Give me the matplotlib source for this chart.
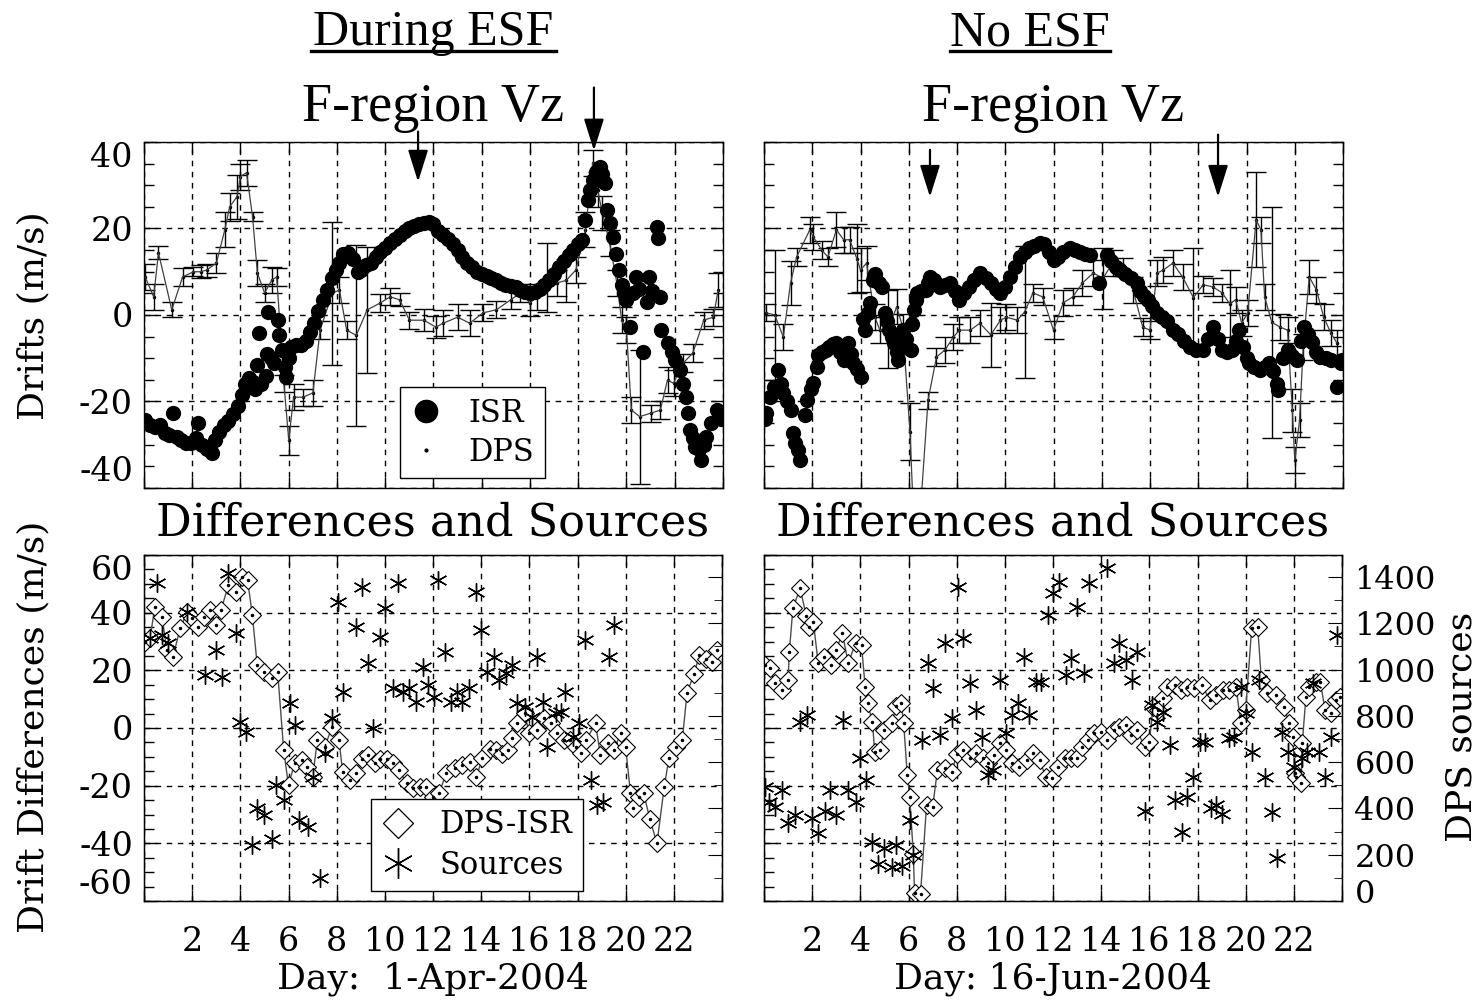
import matplotlib
matplotlib.use("Agg")
import matplotlib.pyplot as plt
import numpy as np
from matplotlib.lines import Line2D
from matplotlib.ticker import MultipleLocator

W, H = 1483, 1001
plt.rcParams['font.family'] = ['DejaVu Serif']

# ---------------- data: 1-Apr-2004 (during ESF) ----------------
# ISR vertical drift (hour, m/s)
isr_apr = np.array([
    [0.05, -24.3], [0.25, -25.5], [0.45, -26], [0.65, -25.5], [0.85, -27.3], [1.05, -27.8],
    [1.2, -22.7], [1.35, -28.3], [1.55, -29], [1.75, -29.5], [1.95, -29.5], [2.15, -28.5],
    [2.25, -25], [2.4, -30], [2.6, -31], [2.8, -32], [2.95, -29], [3.1, -27], [3.3, -25.5],
    [3.5, -24.5], [3.7, -23], [3.9, -21], [4.05, -18.5], [4.2, -16], [4.35, -14.5], [4.5, -15.5],
    [4.6, -17], [4.7, -11.6], [4.75, -4.2], [4.85, -16], [5.05, -14], [5.1, -9], [5.15, 0.7],
    [5.25, -10], [5.4, -11], [5.55, -1.2], [5.6, -4.6], [5.7, -8], [5.85, -12], [5.9, -14.4],
    [6.0, -10], [6.1, -7.5], [6.3, -7], [6.5, -7], [6.7, -6], [6.9, -4], [7.05, -1.9], [7.2, 1],
    [7.4, 3.5], [7.6, 5.8], [7.8, 8.5], [7.95, 10.5], [8.1, 12], [8.25, 14], [8.45, 14.4],
    [8.65, 13], [8.85, 10], [9.0, 10.5], [9.2, 11.5], [9.4, 12], [9.6, 13.5], [9.8, 14.5],
    [10.0, 15.5], [10.2, 16.7], [10.4, 17.5], [10.6, 18.5], [10.8, 19.5], [11.0, 20], [11.2, 20.5],
    [11.4, 21], [11.6, 21.2], [11.8, 21.5], [12.0, 21], [12.2, 19.5], [12.4, 18.5], [12.6, 17.5],
    [12.8, 16.5], [13.0, 15], [13.2, 13.4], [13.4, 12], [13.6, 11], [13.8, 10], [14.0, 9.5],
    [14.2, 9], [14.4, 8.5], [14.6, 8.1], [14.8, 7.5], [15.0, 7], [15.2, 6.8], [15.4, 6.5],
    [15.6, 5.8], [15.8, 5.3], [16.0, 5.1], [16.2, 5.3], [16.4, 6], [16.6, 7], [16.8, 8], [17.0, 9.5],
    [17.2, 11], [17.4, 12.5], [17.6, 13.8], [17.8, 15], [18.0, 16.5], [18.15, 17.4], [18.3, 22],
    [18.4, 26.7], [18.5, 29], [18.6, 31.3], [18.75, 33], [18.9, 34.3], [19.0, 32.5], [19.1, 30.6],
    [19.2, 24.3], [19.3, 21.3], [19.45, 18], [19.55, 14], [19.7, 10.4], [19.8, 7], [19.9, 5.1],
    [20.0, 3.5], [20.15, -2.8], [20.25, 5], [20.4, 8.8], [20.5, 6], [20.7, -8.6], [20.85, 3],
    [20.95, 8.8], [21.05, 5.5], [21.25, 20.4], [21.3, 17.8], [21.4, 4.2], [21.45, -3.5],
    [21.7, -6.5], [21.9, -8.5], [22.0, -10.4], [22.2, -12.7], [22.35, -16], [22.45, -19],
    [22.55, -22.7], [22.65, -26.6], [22.75, -28.5], [22.85, -30.6], [23.0, -31], [23.1, -33.6],
    [23.2, -30], [23.3, -28.3], [23.5, -25], [23.75, -22], [23.9, -24]])

# DPS drift (hour, m/s, error)
dps_apr = np.array([
    [0.05, 8.8, 3], [0.4, 4.2, 3], [0.6, 14.4, 1.5], [1.15, 1.2, 1.7], [1.6, 8.8, 2], [2.05, 10, 1],
    [2.35, 10, 1.5], [2.6, 10.4, 1.5], [3.0, 12, 2.3], [3.35, 19.7, 4], [3.55, 25, 3.3],
    [3.85, 27.3, 5], [4.0, 32, 3], [4.25, 32.9, 3], [4.5, 22.7, 1], [4.7, 9.7, 3], [5.0, 5.1, 2],
    [5.3, 8.1, 3], [5.5, 8.8, 2], [5.8, -15.8, 2], [6.0, -29, 3.3], [6.2, -19, 3], [6.6, -19, 2],
    [7.0, -18, 3], [7.3, -3.5, 2], [7.8, 5, 16.5], [8.1, 5.8, 3], [8.4, -3.5, 2], [8.8, -4.7, 21],
    [9.25, 1.2, 14.6], [9.8, 2.8, 2], [10.2, 4.2, 2], [10.6, 3.5, 1.5], [11.0, -1.2, 2],
    [11.6, -1.2, 2.5], [12.1, -2.8, 2.5], [12.4, -1.9, 3], [13.0, -0.5, 3], [13.5, -1.9, 3],
    [14.05, 0.5, 2], [14.6, 1.2, 2], [15.2, 3.5, 2], [15.6, 5.1, 2], [16.0, 2.8, 3], [16.3, 4.2, 3],
    [16.7, 8.6, 8], [17.1, 7.4, 3], [17.5, 8, 5], [17.9, 10.4, 3], [18.3, 19.7, 4], [18.6, 35.2, 3],
    [18.8, 29, 4], [19.0, 23.6, 4], [19.3, 16.7, 3], [19.6, 7.4, 3], [19.8, -1.2, 3], [20.0, -3.5, 3],
    [20.2, -22, 3], [20.55, -23.5, 15.5], [21.0, -22.7, 2], [21.4, -22, 2], [21.7, -15, 3],
    [21.95, -15.8, 3], [22.35, -11.1, 2], [22.75, -8.8, 2], [23.2, -1.2, 2], [23.6, -0.5, 2],
    [23.8, 5.8, 4]])

# DPS-ISR difference (hour, m/s)
diff_apr = np.array([
    [0.05, 29.8], [0.25, 31.1], [0.45, 42], [0.75, 38.4], [0.95, 27], [1.2, 24.5], [1.5, 34.6],
    [1.8, 40.2], [2.0, 38], [2.25, 35], [2.5, 38.4], [2.75, 40.9], [3.0, 35.7], [3.2, 40.9],
    [3.5, 49.5], [3.8, 47], [4.05, 52.3], [4.3, 51.3], [4.5, 39.1], [4.7, 21.8], [5.0, 19.4],
    [5.3, 17.2], [5.55, 19.4], [5.8, -7.7], [6.0, -19.9], [6.25, -12.3], [6.55, -11.2],
    [6.75, -13.6], [7.0, -17.1], [7.2, -4.3], [7.5, -6.7], [7.8, 0.2], [8.1, -4.3], [8.25, -15.4],
    [8.55, -18.2], [8.8, -15.7], [9.05, -10.6], [9.3, -9.5], [9.6, -12.3], [9.8, -10.6],
    [10.1, -10.6], [10.35, -12.3], [10.6, -14.7], [10.9, -19.2], [11.15, -20.9], [11.45, -20.5],
    [11.7, -20.5], [12.0, -24], [12.25, -22.7], [12.55, -15.7], [12.9, -14], [13.2, -12.9],
    [13.55, -11.8], [13.8, -17.1], [14.05, -10.3], [14.35, -7.2], [14.6, -7.7], [14.85, -8.9],
    [15.1, -7.7], [15.3, -3.6], [15.5, 1.6], [15.8, 5.1], [16.0, -1.9], [16.3, -0.8], [16.6, 3.3],
    [16.9, 1.6], [17.15, -1.9], [17.45, -4.3], [17.7, -4.3], [17.95, -6.7], [18.15, -8.5],
    [18.35, -4.3], [18.75, 1.6], [18.95, -9.5], [19.25, -5.3], [19.5, -7.7], [19.8, -1.9],
    [20.0, -6.7], [20.2, -22.7], [20.3, -27.8], [20.55, -24.1], [20.75, -22.7], [21.0, -31.4],
    [21.3, -40], [21.6, -20.5], [21.8, -10.3], [22.1, -6.7], [22.35, -4.3], [22.55, 12.3],
    [22.85, 18.9], [23.05, 25.2], [23.35, 24.1], [23.6, 22.8], [23.8, 27]])

# DPS sources (hour, count)
src_apr = np.array([
    [0.25, 1136], [0.55, 1374], [0.75, 1149], [1.0, 1114], [1.8, 1248], [2.55, 976], [3.0, 1084],
    [3.25, 967], [3.5, 1417], [3.8, 1157], [3.97, 773], [4.25, 729], [4.5, 240], [4.7, 400],
    [5.0, 370], [5.3, 270], [5.5, 500], [5.8, 435], [6.05, 855], [6.25, 760], [6.45, 348],
    [6.8, 318], [7.0, 535], [7.3, 101], [7.5, 639], [7.8, 790], [8.05, 1292], [8.25, 902],
    [8.8, 1184], [9.05, 1357], [9.3, 1028], [9.5, 746], [9.8, 1141], [10.0, 1266], [10.35, 919],
    [10.55, 1374], [10.75, 902], [11.0, 919], [11.3, 859], [11.6, 1011], [11.8, 933], [12.05, 881],
    [12.2, 1387], [12.5, 1076], [12.75, 859], [13.0, 902], [13.2, 859], [13.5, 919], [13.8, 1335],
    [14.0, 1171], [14.25, 989], [14.55, 1054], [14.75, 954], [15.05, 984], [15.3, 1019],
    [15.5, 855], [15.8, 838], [16.1, 794], [16.3, 1054], [16.55, 859], [16.75, 664], [17.1, 811],
    [17.3, 816], [17.5, 902], [17.8, 707], [18.05, 768], [18.3, 1127], [18.55, 521], [18.8, 413],
    [19.05, 426], [19.3, 1054], [19.5, 1192]])

# ---------------- data: 16-Jun-2004 (no ESF) ----------------
isr_jun = np.array([
    [0.05, -24], [0.1, -22.7], [0.25, -19], [0.4, -16.7], [0.6, -12.7], [0.7, -16], [0.8, -18],
    [0.95, -20], [1.1, -22], [1.2, -27.3], [1.3, -29.5], [1.4, -31.3], [1.5, -33.6], [1.7, -23.2],
    [1.8, -19.7], [1.95, -17], [2.05, -15.8], [2.2, -12], [2.25, -9.3], [2.4, -8.5], [2.55, -8],
    [2.7, -7.4], [2.85, -6.8], [3.0, -6.5], [3.15, -8.5], [3.3, -10.4], [3.5, -6.5], [3.6, -9],
    [3.7, -11.1], [3.85, -12.5], [4.0, -14.4], [4.1, -1], [4.2, -3.5], [4.3, 0.5], [4.4, 2.8],
    [4.5, 8.1], [4.6, 9.5], [4.75, 7.5], [4.9, 6.5], [5.0, 0.5], [5.1, -1.5], [5.2, -3.5],
    [5.3, -5], [5.4, -6.5], [5.5, -8.5], [5.55, -10.4], [5.7, -6], [5.75, -3.5], [5.9, -5.5],
    [6.1, -8.1], [6.15, -2], [6.2, 1.2], [6.3, 3.5], [6.35, 5.1], [6.5, 5.5], [6.7, 5.8],
    [6.8, 7.5], [6.9, 8.8], [7.05, 8], [7.2, 7], [7.3, 6.5], [7.5, 7], [7.7, 7.4], [7.9, 5.5],
    [8.1, 3.5], [8.3, 5], [8.5, 6.5], [8.7, 8], [8.95, 9.7], [9.2, 8.5], [9.4, 7.4], [9.6, 6],
    [9.8, 5.1], [10.0, 6.5], [10.2, 8.8], [10.4, 11], [10.6, 13.4], [10.8, 14.5], [11.0, 15.5],
    [11.2, 16], [11.45, 16.7], [11.6, 16.5], [11.8, 14.5], [12.0, 12.7], [12.2, 13.5], [12.4, 14.5],
    [12.7, 15.5], [12.9, 15], [13.1, 14.5], [13.3, 14], [13.5, 13.9], [13.9, 7.4], [14.2, 13.9],
    [14.4, 12.5], [14.6, 11.2], [14.75, 10.4], [14.95, 9.5], [15.2, 8.5], [15.45, 7.4], [15.6, 5.5],
    [15.75, 4.5], [15.9, 3.5], [16.1, 2], [16.3, 0.5], [16.5, -0.5], [16.7, -1.5], [16.95, -3.5],
    [17.15, -4.5], [17.4, -6], [17.65, -7.4], [17.9, -8], [18.2, -8.1], [18.4, -5.5], [18.6, -2.8],
    [18.8, -5.5], [19.0, -8.1], [19.2, -8.5], [19.4, -8.1], [19.55, -6], [19.7, -3.5], [19.85, -7.5],
    [20.0, -10], [20.1, -11.1], [20.3, -12], [20.55, -12.7], [20.75, -12], [20.95, -11.1],
    [21.1, -13], [21.25, -16], [21.3, -17.4], [21.5, -10], [21.7, -8.1], [21.9, -9.5], [22.1, -10.4],
    [22.25, -6], [22.4, -2.8], [22.55, -4.5], [22.7, -6.3], [22.9, -8.5], [23.05, -9.7], [23.3, -10],
    [23.5, -10.4], [23.75, -16.7], [23.9, -11], [23.95, -10.4]])

dps_jun = np.array([
    [0.1, 0.5, 2], [0.45, 0, 15], [0.8, -5.1, 3], [1.1, 7.4, 5], [1.35, 13.4, 2], [1.9, 19.7, 3],
    [2.05, 18, 3], [2.4, 15, 2], [2.65, 13.4, 2], [3.0, 19.7, 4], [3.3, 17.4, 3], [3.55, 17.4, 3],
    [3.85, 13, 8], [4.0, 10.4, 5], [4.25, 12, 4], [4.6, -0.5, 3], [4.8, -3.5, 3], [5.15, -3.3, 9],
    [5.5, 1.9, 4], [5.75, -2.8, 3], [6.05, -27, 6.6], [6.3, -60, 5], [6.8, -19.7, 2],
    [7.15, -9.7, 2], [7.5, -8.1, 3], [7.85, -5.1, 3], [8.1, -3.5, 3], [8.55, -3.5, 3],
    [8.95, -1.9, 3], [9.4, -4.6, 7.4], [9.8, -1.2, 3], [10.05, -0.5, 3], [10.5, -1.2, 3],
    [10.8, 0.7, 15.3], [11.15, 5.1, 2], [11.55, 4.2, 2], [12.0, -3.5, 2], [12.4, 2.8, 3],
    [12.8, 4.2, 2], [13.2, 7.4, 3], [13.65, 9.7, 3], [14.05, 8.5, 7], [14.45, 12, 3], [14.9, 11.1, 2],
    [15.3, 5.8, 3], [15.7, -2.8, 2], [16.0, -3.5, 2], [16.3, 9.7, 3], [16.55, 10.4, 3], [16.95, 12, 3],
    [17.35, 8.8, 3], [17.8, 4, 11.5], [18.2, 7, 2], [18.6, 6.5, 2], [19.0, 5.1, 2], [19.3, 2.6, 7.7],
    [19.55, 3.5, 3], [19.8, -1.9, 3], [20.05, 0.5, 3], [20.4, 22, 11], [20.6, 19.7, 3],
    [20.75, 4.2, 3], [21.05, -1.7, 26.7], [21.4, -2.8, 3], [21.7, -3.5, 3], [21.9, -22, 5],
    [22.0, -33.6, 3], [22.2, -24.3, 4], [22.35, -7.4, 3], [22.6, 8.8, 4], [22.9, 5.8, 3],
    [23.2, -0.5, 3], [23.5, -4.2, 3], [23.75, -6.5, 3]])

diff_jun = np.array([
    [0.05, 21.8], [0.25, 20.7], [0.45, 15.5], [0.75, 13.1], [1.0, 16.6], [1.05, 26.3], [1.2, 41.5],
    [1.5, 48.5], [1.75, 39], [1.85, 35], [2.05, 36.7], [2.25, 22.5], [2.5, 24.6], [2.8, 21.8],
    [3.0, 27], [3.25, 32.9], [3.5, 22.5], [3.8, 29.4], [4.05, 28.7], [4.2, 14.2], [4.3, 8.6],
    [4.5, 2.0], [4.6, -8.3], [4.8, -7.7], [5.0, -0.8], [5.3, 1.6], [5.5, 7.8], [5.7, 8.6],
    [5.8, 1.6], [5.95, -16.4], [6.05, -24], [6.2, -43.6], [6.25, -57.1], [6.5, -57.4], [6.75, -26.8],
    [7.0, -27.5], [7.2, -14.7], [7.5, -14], [7.8, -15.4], [8.0, -8.9], [8.25, -7.7], [8.55, -10.3],
    [8.8, -8.5], [9.1, -10.3], [9.3, -12.3], [9.55, -9.5], [9.8, -5.3], [10.05, -7.7], [10.3, -12.3],
    [10.6, -13.6], [10.9, -11.2], [11.15, -8.5], [11.45, -11.2], [11.7, -17.1], [11.95, -17.4],
    [12.2, -13.6], [12.5, -10.3], [12.75, -10.3], [13.0, -10.3], [13.2, -6.7], [13.45, -4.3],
    [13.7, -1.9], [14.0, -1.5], [14.25, -4.3], [14.55, -0.8], [14.75, 0.2], [15.05, 0.9],
    [15.25, -2.5], [15.5, -0.8], [15.8, -6.7], [16.0, -5], [16.15, 7.2], [16.35, 6.1], [16.55, 10.3],
    [16.75, 14.2], [17.05, 14.9], [17.3, 13.1], [17.55, 14.2], [17.85, 13.8], [18.2, 14.9],
    [18.5, 9.6], [18.75, 11.4], [19.05, 13.1], [19.3, 13.1], [19.6, 14.2], [19.8, 1.6], [20.0, 6.1],
    [20.25, 34.6], [20.5, 35], [20.65, 16.6], [20.9, 12.3], [21.25, 11.4], [21.6, 7.2], [21.8, 1.6],
    [21.95, -3.2], [22.05, -15.7], [22.1, -17.1], [22.3, -19.2], [22.35, -5.3], [22.5, 10.6],
    [22.65, 14.2], [22.9, 16.0], [23.1, 16.0], [23.3, 6.1], [23.55, 5.1], [23.75, 9.6], [23.9, 10.6]])

src_jun = np.array([
    [0.05, 491], [0.2, 426], [0.45, 404], [0.75, 478], [1.0, 339], [1.3, 370], [1.5, 773],
    [1.8, 803], [2.0, 357], [2.25, 292], [2.55, 391], [2.75, 478], [3.0, 370], [3.3, 781],
    [3.5, 478], [3.8, 426], [4.0, 616], [4.25, 521], [4.5, 253], [4.75, 162], [5.0, 227],
    [5.3, 145], [5.5, 240], [5.75, 153], [6.05, 348], [6.2, 197], [6.55, 694], [6.8, 1028],
    [7.0, 919], [7.3, 716], [7.5, 1114], [7.8, 790], [8.05, 1357], [8.25, 1136], [8.55, 941],
    [8.8, 824], [9.05, 707], [9.3, 543], [9.5, 565], [9.8, 954], [10.05, 725], [10.3, 803],
    [10.55, 855], [10.8, 1054], [11.0, 803], [11.3, 945], [11.5, 945], [11.8, 1235], [12.0, 1331],
    [12.25, 1379], [12.55, 976], [12.75, 1049], [13.0, 1270], [13.3, 984], [13.5, 1374],
    [14.25, 1439], [14.55, 1028], [14.75, 1114], [15.05, 1041], [15.3, 954], [15.5, 1076],
    [15.8, 391], [16.1, 846], [16.3, 773], [16.55, 816], [16.85, 673], [17.05, 435], [17.35, 296],
    [17.55, 448], [17.8, 535], [18.1, 686], [18.3, 686], [18.55, 400], [18.75, 413], [19.0, 378],
    [19.3, 703], [19.5, 707], [19.8, 924], [20.0, 811], [20.25, 643], [20.55, 954], [20.8, 535],
    [21.1, 383], [21.3, 184], [21.5, 730], [21.75, 643], [22.0, 578], [22.35, 616], [22.55, 643],
    [22.8, 941], [23.05, 643], [23.3, 535], [23.55, 707], [23.8, 1149]])

# arrows marking times (hour, tail m/s, tip m/s)
arrows_apr = np.array([[11.36, 42.4, 30.8], [18.65, 52.6, 38.0]])
arrows_jun = np.array([[6.88, 38.2, 27.3], [18.82, 41.7, 27.3]])

hour_ticks = list(range(0, 25, 2))
hour_labels = [''] + [str(h) for h in range(2, 23, 2)] + ['']
src_ticks = list(range(0, 1401, 200))

TICK_FS = 24
RIGHT_FS = 23
LABEL_FS = 26

fig = plt.figure(figsize=(W / 100, H / 100), dpi=100)


def px_axes(x0, y0, x1, y1):
    return fig.add_axes([x0 / W, 1 - y1 / H, (x1 - x0) / W, (y1 - y0) / H])


def base_style(ax, lim, yticks, show_x, show_y):
    ax.set_xlim(0, 24)
    ax.set_ylim(-lim, lim)
    ax.set_xticks(hour_ticks)
    ax.set_xticklabels(hour_labels if show_x else [''] * len(hour_ticks))
    ax.set_yticks(yticks)
    ax.yaxis.set_minor_locator(MultipleLocator(5))
    labs = ax.set_yticklabels([str(v) for v in yticks] if show_y else [''] * len(yticks))
    labs[0].set_va('bottom')
    labs[-1].set_va('top')
    ax.grid(True, which='major', color='k', lw=1.0, ls=(0, (4, 4)))
    ax.tick_params(which='both', direction='in', labelsize=TICK_FS, width=1)
    ax.tick_params(axis='y', which='major', length=9, pad=8)
    ax.tick_params(axis='y', which='minor', length=7)
    ax.tick_params(axis='x', which='major', length=8, pad=18, top=True)
    for s in ax.spines.values():
        s.set_linewidth(1.0)


def top_panel(ax, isr, dps, arrows, show_y):
    base_style(ax, 40, [-40, -20, 0, 20, 40], False, show_y)
    ax.tick_params(which='both', right=True)
    ax.errorbar(dps[:, 0], dps[:, 1], yerr=dps[:, 2], fmt='-', color='0.25', lw=0.9,
                ecolor='k', elinewidth=1.0, capsize=7, capthick=1.0, zorder=2)
    ax.plot(dps[:, 0], dps[:, 1], '.', color='k', ms=3, zorder=2)
    ax.plot(isr[:, 0], isr[:, 1], 'o', color='k', ms=11, mew=0, zorder=3)
    for h, tail, tip in arrows:
        ax.annotate('', xy=(h, tip), xytext=(h, tail), annotation_clip=False,
                    arrowprops=dict(arrowstyle='-|>,head_length=0.7,head_width=0.22',
                                    color='k', lw=1.6, mutation_scale=28, shrinkA=0, shrinkB=0))


def bottom_panel(ax, diff, src, show_y, show_right):
    base_style(ax, 60, [-60, -40, -20, 0, 20, 40, 60], True, show_y)
    ax.plot(diff[:, 0], diff[:, 1], '-', color='0.3', lw=1.0, marker='D', ms=9,
            mfc='white', mec='k', mew=0.8, zorder=3)
    ax.plot(diff[:, 0], diff[:, 1], '.', color='k', ms=3, zorder=4)
    ax2 = ax.twinx()
    ax2.set_ylim(0, 1495)
    ax2.set_yticks(src_ticks)
    ax2.yaxis.set_minor_locator(MultipleLocator(100))
    # the "0" label sits at the very bottom; it is drawn separately below
    ax2.set_yticklabels([''] + [str(v) for v in src_ticks[1:]] if show_right
                        else [''] * len(src_ticks))
    ax2.tick_params(which='both', direction='in', labelsize=RIGHT_FS, pad=9)
    ax2.tick_params(which='major', length=10)
    ax2.tick_params(which='minor', length=6)
    if show_right:
        ax2.annotate(str(src_ticks[0]), xy=(1, src_ticks[0]), xycoords=('axes fraction', 'data'),
                     xytext=(9.5, -1.5), textcoords='offset points', ha='left', va='baseline',
                     fontsize=RIGHT_FS, annotation_clip=False)
    ax2.plot(src[:, 0], src[:, 1], linestyle='none', marker=(6, 2, 0), ms=13,
             mec='k', mew=1.0, zorder=3)
    ax2.plot(src[:, 0], src[:, 1], '.', color='k', ms=3, zorder=4)
    return ax2


# top panels
ax_tl = px_axes(144, 142, 723, 488)
top_panel(ax_tl, isr_apr, dps_apr, arrows_apr, True)
ax_tr = px_axes(764, 142, 1343, 488)
top_panel(ax_tr, isr_jun, dps_jun, arrows_jun, False)

h_isr = Line2D([], [], ls='none', marker='o', color='k', ms=16)
h_dps = Line2D([], [], ls='none', marker='.', color='k', ms=4)
leg = ax_tl.legend([h_isr, h_dps], ['ISR', 'DPS'], loc='lower left',
                   bbox_to_anchor=(0.442, 0.028), fontsize=22, frameon=True, fancybox=False,
                   edgecolor='k', framealpha=1, handlelength=1.0, handletextpad=0.9,
                   borderpad=0.35, labelspacing=0.25, borderaxespad=0)
leg.get_frame().set_linewidth(1.0)
leg.set_zorder(10)

# bottom panels
ax_bl = px_axes(144, 555, 722, 901)
bottom_panel(ax_bl, diff_apr, src_apr, True, False)
ax_br = px_axes(764, 555, 1342, 901)
bottom_panel(ax_br, diff_jun, src_jun, False, True)

h_diff = Line2D([], [], ls='none', marker='D', ms=15, mfc='white', mec='k', mew=0.9)
h_star = Line2D([], [], ls='none', marker=(6, 2, 0), ms=22, mec='k', mew=1.0)
h_dot = Line2D([], [], ls='none', marker='.', color='k', ms=4)
leg2 = ax_bl.legend([h_diff, (h_star, h_dot)], ['DPS-ISR', 'Sources'], loc='lower left',
                    bbox_to_anchor=(0.392, 0.028), fontsize=22, frameon=True, fancybox=False,
                    edgecolor='k', framealpha=1, handlelength=1.1, handletextpad=0.8,
                    borderpad=0.35, labelspacing=0.3, borderaxespad=0)
leg2.get_frame().set_linewidth(1.0)
leg2.set_zorder(10)

# titles and labels
serif2 = ['Liberation Serif', 'DejaVu Serif']
for cx, t in [(433, 'During ESF'), (1030, 'No ESF')]:
    fig.text(cx / W, 1 - 45 / H, t, ha='center', va='baseline', fontsize=36, family=serif2)
for cx in (433, 1053):
    fig.text(cx / W, 1 - 121 / H, 'F-region Vz', ha='center', va='baseline', fontsize=39,
             family=serif2)
    fig.text(cx / W, 1 - 535 / H, 'Differences and Sources', ha='center', va='baseline',
             fontsize=32)
fig.add_artist(Line2D([311 / W, 556 / W], [1 - 51 / H] * 2, color='k', lw=2.4))
fig.add_artist(Line2D([950 / W, 1110 / W], [1 - 51 / H] * 2, color='k', lw=2.4))

fig.text(433 / W, 1 - 989 / H, 'Day:  1-Apr-2004', ha='center', va='baseline', fontsize=LABEL_FS)
fig.text(1053 / W, 1 - 989 / H, 'Day: 16-Jun-2004', ha='center', va='baseline', fontsize=LABEL_FS)
fig.text(33 / W, 1 - 316 / H, 'Drifts (m/s)', ha='center', va='center', rotation=90,
         fontsize=LABEL_FS)
fig.text(33 / W, 1 - 727 / H, 'Drift Differences (m/s)', ha='center', va='center',
         rotation=90, fontsize=LABEL_FS)
fig.text(1462 / W, 1 - 727 / H, 'DPS sources', ha='center', va='center', rotation=90,
         fontsize=LABEL_FS)

fig.savefig('out.png', dpi=100)
